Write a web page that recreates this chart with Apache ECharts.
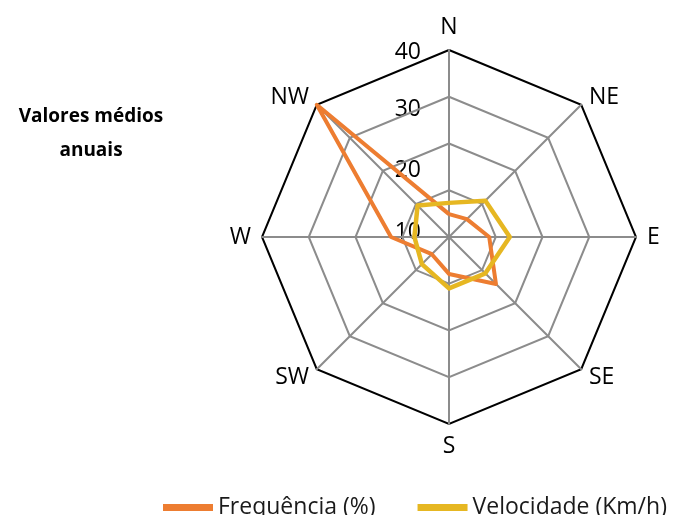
<!DOCTYPE html>
<html>
<head>
<meta charset="utf-8">
<script src="https://cdn.jsdelivr.net/npm/echarts@6/dist/echarts.min.js"></script>
<style>
html,body{margin:0;padding:0;background:#fff;}
#chart{width:676px;height:515px;}
</style>
</head>
<body>
<div id="chart"></div>
<script>
// Directions in counter-clockwise order starting from North
const directions = ['N', 'NW', 'W', 'SW', 'S', 'SE', 'E', 'NE'];
const frequencia = [4.9, 40, 12.4, 5.2, 7.9, 14.2, 8.6, 5.4];
const velocidade = [7.3, 9.5, 7.4, 8.2, 11.0, 11.0, 13.0, 11.0];
const tickLabels = ['40', '30', '20', '10'];
const seriesNames = ['Frequência (%)', 'Velocidade (Km/h)'];
const titleText = 'Valores médios\nanuais';

const FONT = 'Open Sans';
const chart = echarts.init(document.getElementById('chart'), null, {renderer: 'canvas'});

const cx = 449, cy = 237, R = 187;
const tickY = [52, 109, 170, 232];

chart.setOption({
  animation: false,
  backgroundColor: '#fff',
  textStyle: {fontFamily: FONT},
  title: {
    text: titleText,
    left: 86, top: 95, textAlign: 'center',
    textStyle: {fontFamily: FONT, fontWeight: 'bold', fontSize: 19, lineHeight: 34, color: '#000'}
  },
  legend: {
    top: 491, left: 158,
    itemWidth: 50, itemHeight: 7, itemGap: 42,
    icon: 'rect',
    data: seriesNames,
    textStyle: {fontFamily: FONT, fontSize: 23, color: '#1a1a1a'}
  },
  radar: {
    center: [cx, cy],
    radius: R,
    startAngle: 90,
    splitNumber: 4,
    shape: 'polygon',
    indicator: directions.map(d => ({name: d, min: 0, max: 40})),
    axisName: {color: '#000', fontSize: 23, fontFamily: FONT},
    nameGap: 11,
    splitArea: {show: false},
    axisLine: {lineStyle: {color: '#8c8c8c', width: 2}},
    splitLine: {lineStyle: {color: ['#8c8c8c', '#8c8c8c', '#8c8c8c', '#8c8c8c', '#000'], width: 2}},
    axisLabel: {show: false}
  },
  graphic: tickLabels.map((t, i) => ({
    type: 'text',
    x: 421, y: tickY[i],
    style: {text: t, fontSize: 23, fontFamily: FONT, fill: '#000', align: 'right', verticalAlign: 'middle'}
  })),
  series: [{
    type: 'radar',
    symbol: 'none',
    data: [
      {name: seriesNames[0], value: frequencia, lineStyle: {color: '#ED7D31', width: 4}, itemStyle: {color: '#ED7D31'}},
      {name: seriesNames[1], value: velocidade, lineStyle: {color: '#E6B722', width: 4.5}, itemStyle: {color: '#E6B722'}}
    ]
  }]
});
</script>
</body>
</html>
